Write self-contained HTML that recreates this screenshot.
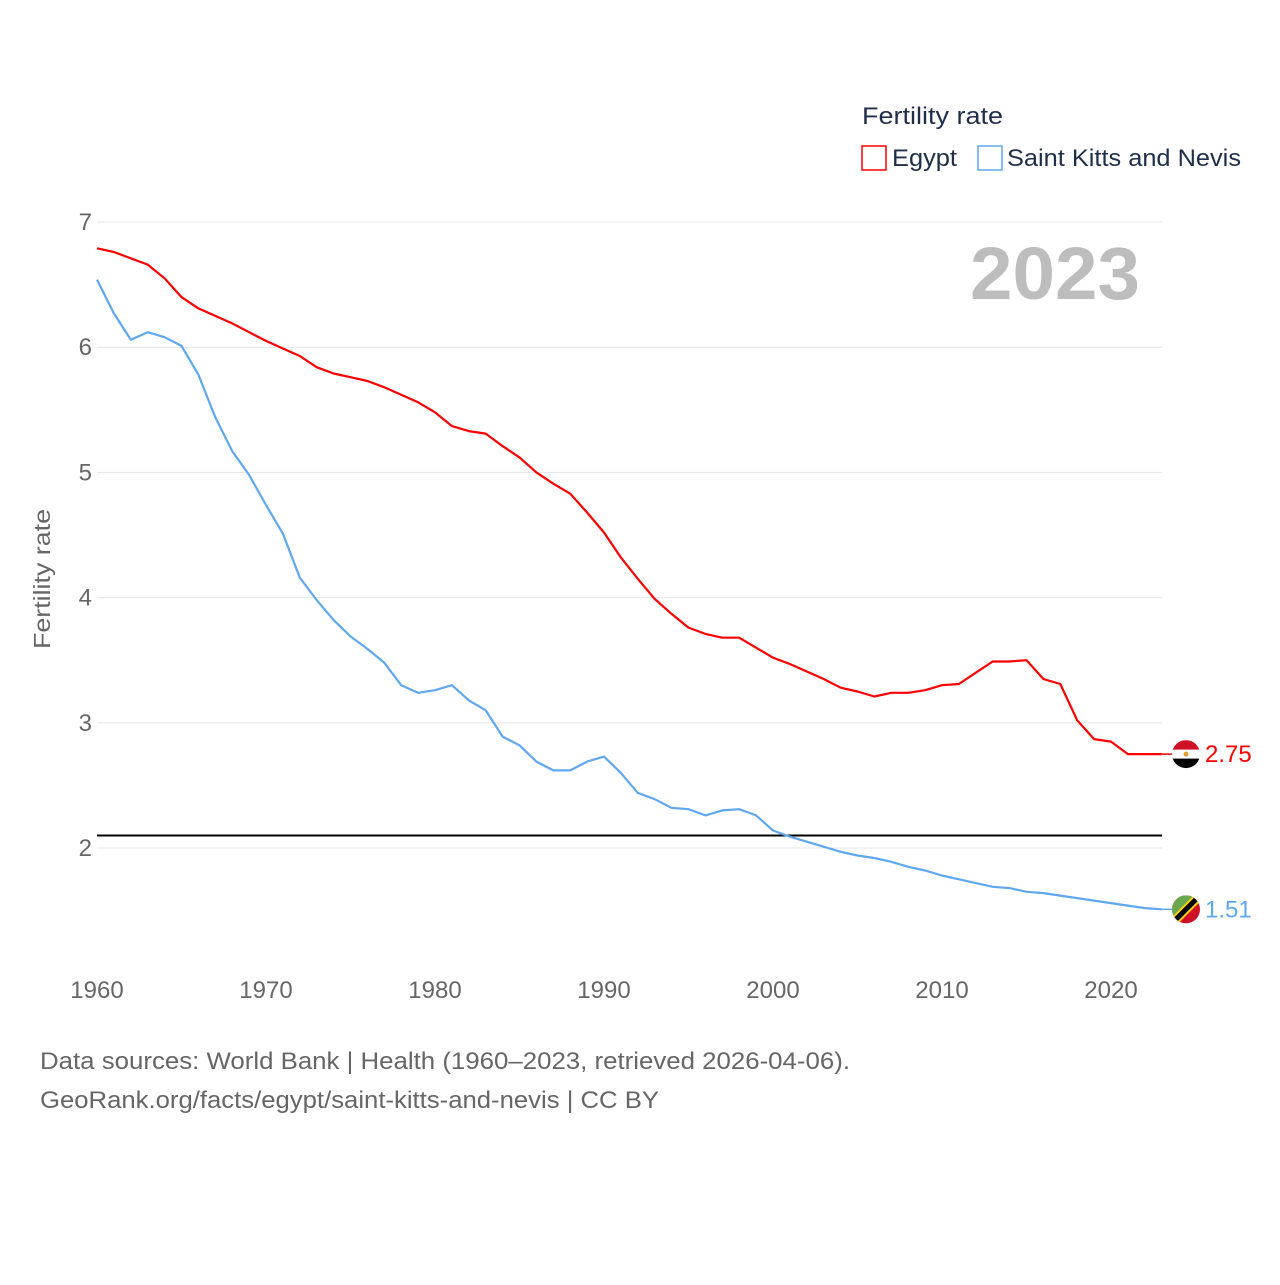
<!DOCTYPE html>
<html><head><meta charset="utf-8"><style>
body{margin:0;background:#fff;font-family:"Liberation Sans",sans-serif}
svg text{font-family:"Liberation Sans",sans-serif}
</style></head><body>
<svg id="chart" width="1280" height="1280" xmlns="http://www.w3.org/2000/svg">
<g id="grid"></g>
<g id="xticks"></g>
<text transform="translate(50,579) rotate(-90)" text-anchor="middle" font-size="23" fill="#666" textLength="140" lengthAdjust="spacingAndGlyphs">Fertility rate</text>
<text x="970" y="299" font-size="74" font-weight="bold" fill="#bdbdbd" textLength="170" lengthAdjust="spacingAndGlyphs">2023</text>
<text x="862" y="124" font-size="24" fill="#1f2f4a" textLength="141" lengthAdjust="spacingAndGlyphs">Fertility rate</text>
<rect x="862" y="146" width="24" height="24" fill="none" stroke="#ff0000" stroke-width="1.5"/>
<text x="892" y="166" font-size="24" fill="#1f2f4a" textLength="65" lengthAdjust="spacingAndGlyphs">Egypt</text>
<rect x="978" y="146" width="24" height="24" fill="none" stroke="#5fa8f0" stroke-width="1.5"/>
<text x="1007" y="166" font-size="24" fill="#1f2f4a" textLength="234" lengthAdjust="spacingAndGlyphs">Saint Kitts and Nevis</text>
<g id="series"></g>
<text x="40" y="1069" font-size="24" fill="#666" textLength="810" lengthAdjust="spacingAndGlyphs">Data sources: World Bank | Health (1960–2023, retrieved 2026-04-06).</text>
<text x="40" y="1108" font-size="24" fill="#666" textLength="619" lengthAdjust="spacingAndGlyphs">GeoRank.org/facts/egypt/saint-kitts-and-nevis | CC BY</text>
</svg>
<script>
const years=[];for(let y=1960;y<=2023;y++)years.push(y);
const egypt=[6.79,6.76,6.71,6.66,6.55,6.40,6.31,6.25,6.19,6.12,6.05,5.99,5.93,5.84,5.79,5.76,5.73,5.68,5.62,5.56,5.48,5.37,5.33,5.31,5.21,5.12,5.00,4.91,4.83,4.68,4.52,4.32,4.15,3.99,3.87,3.76,3.71,3.68,3.68,3.60,3.52,3.47,3.41,3.35,3.28,3.25,3.21,3.24,3.24,3.26,3.30,3.31,3.40,3.49,3.49,3.50,3.35,3.31,3.02,2.87,2.85,2.75,2.75,2.75];
const skn=[6.54,6.27,6.06,6.12,6.08,6.01,5.78,5.44,5.17,4.98,4.74,4.51,4.16,3.98,3.82,3.69,3.59,3.48,3.30,3.24,3.26,3.30,3.18,3.10,2.89,2.82,2.69,2.62,2.62,2.69,2.73,2.60,2.44,2.39,2.32,2.31,2.26,2.30,2.31,2.26,2.14,2.09,2.05,2.01,1.97,1.94,1.92,1.89,1.85,1.82,1.78,1.75,1.72,1.69,1.68,1.65,1.64,1.62,1.60,1.58,1.56,1.54,1.52,1.51];
const yTicks=[2,3,4,5,6,7];
const xTicks=[1960,1970,1980,1990,2000,2010,2020];
const replacement=2.1;
const NS="http://www.w3.org/2000/svg";
const X=y=>97+(y-1960)*(1111-97)/60;
const Y=v=>848-(v-2)*125.2;
function mk(tag,attrs,parent){const e=document.createElementNS(NS,tag);for(const k in attrs)e.setAttribute(k,attrs[k]);parent.appendChild(e);return e;}
const grid=document.getElementById('grid');
yTicks.forEach(t=>{
 const l=mk('line',{x1:97,x2:1162,y1:Y(t),y2:Y(t),stroke:'#e6e6e6','stroke-width':1},grid);
 
 
 const tx=mk('text',{x:92,y:Y(t)+8,'text-anchor':'end','font-size':24,fill:'#666'},grid);
 tx.textContent=t;
 
 
});
const xg=document.getElementById('xticks');
xTicks.forEach(t=>{
 const tx=mk('text',{x:X(t),y:998,'text-anchor':'middle','font-size':24,fill:'#666'},xg);
 tx.textContent=t;
 
 
});
const sg=document.getElementById('series');
const rl=mk('line',{x1:97,x2:1162,y1:Y(replacement),y2:Y(replacement),stroke:'#000','stroke-width':2},sg);


function line(vals,color,name){
 const d=vals.map((v,i)=>(i?'L':'M')+X(years[i]).toFixed(1)+','+Y(v).toFixed(1)).join('');
 const p=mk('path',{d:d,fill:'none',stroke:color,'stroke-width':2.2,'stroke-linejoin':'round'},sg);
 
 
 const last=vals[vals.length-1];
 const x=X(years[years.length-1]);
 mk('line',{x1:x,x2:1172,y1:Y(last),y2:Y(last),stroke:color,'stroke-width':1.5},sg);
 return [x,Y(last),last];
}
const [ex,ey,ev]=line(egypt,'#ff0000','egypt-line');
const [sx,sy,sv]=line(skn,'#5fa8f0','skn-line');
const fe=mk('g',{},sg);


const cp1=mk('clipPath',{id:'c1'},fe);mk('circle',{cx:1186,cy:ey,r:14},cp1);
mk('rect',{x:1172,y:ey-14,width:28,height:10,fill:'#ce1126','clip-path':'url(#c1)'},fe);
mk('rect',{x:1172,y:ey-4.5,width:28,height:9,fill:'#fff','clip-path':'url(#c1)'},fe);
mk('rect',{x:1172,y:ey+4.5,width:28,height:10,fill:'#000','clip-path':'url(#c1)'},fe);
mk('circle',{cx:1186,cy:ey,r:2.5,fill:'#e0a030'},fe);
const el=mk('text',{x:1205,y:ey+8,'font-size':24,fill:'#ff0000'},sg);el.textContent=ev.toFixed(2);


const fs=mk('g',{},sg);


const cp=mk('clipPath',{id:'c2'},fs);mk('circle',{cx:1186,cy:sy,r:14},cp);
mk('rect',{x:1172,y:sy-14,width:28,height:28,fill:'#ce1126','clip-path':'url(#c2)'},fs);
mk('polygon',{points:`1172,${sy-14} 1200,${sy-14} 1172,${sy+14}`,fill:'#6aa84f','clip-path':'url(#c2)'},fs);
mk('line',{x1:1200,y1:sy-14,x2:1172,y2:sy+14,stroke:'#fcd116','stroke-width':9,'clip-path':'url(#c2)'},fs);
mk('line',{x1:1200,y1:sy-14,x2:1172,y2:sy+14,stroke:'#000','stroke-width':5,'clip-path':'url(#c2)'},fs);
const sl=mk('text',{x:1205,y:sy+8,'font-size':24,fill:'#5fa8f0'},sg);sl.textContent=sv.toFixed(2);


</script>
</body></html>
